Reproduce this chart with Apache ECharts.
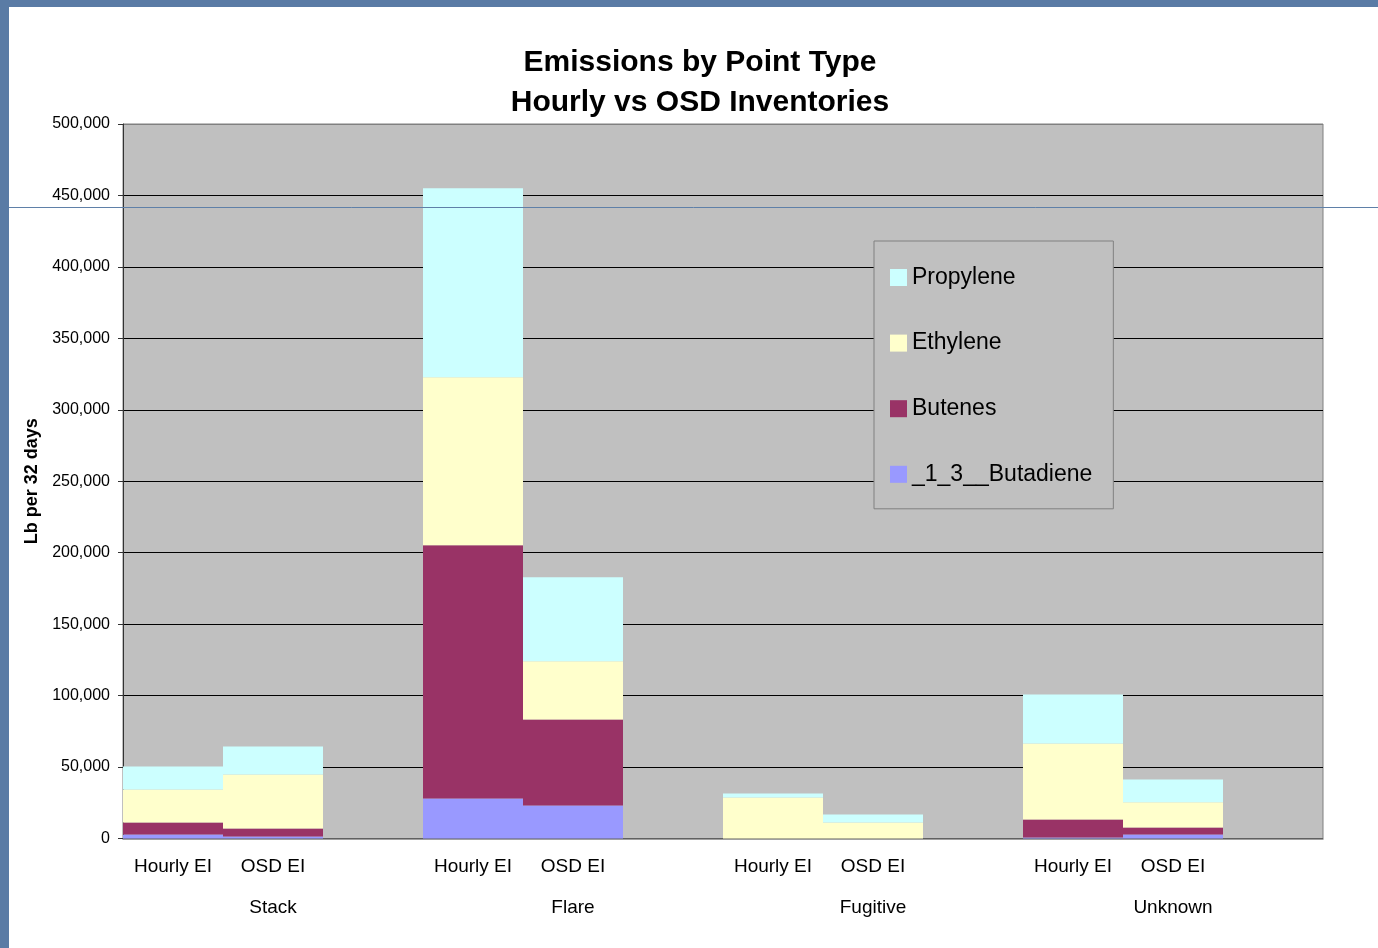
<!DOCTYPE html>
<html>
<head>
<meta charset="utf-8">
<script src="https://cdn.jsdelivr.net/npm/echarts@6/dist/echarts.min.js"></script>
<style>
    body { margin: 0; background: #5a7ba5; }
    .sheet { position: absolute; left: 9px; top: 7px; right: 0; bottom: 0; background: #fff; }
    #chart { position: absolute; left: 0; top: 0; width: 1378px; height: 948px; }
</style>
</head>
<body>
<div class="sheet"></div>
<div id="chart"></div>
<script>
// 12 slots: each group is Hourly, OSD and an empty spacer slot
const categories = ['Hourly EI', 'OSD EI', '', 'Hourly EI', 'OSD EI', '', 'Hourly EI', 'OSD EI', '', 'Hourly EI', 'OSD EI', '']
const groups = ['Stack', 'Flare', 'Fugitive', 'Unknown']

// stacked from the bottom up
const butadiene = [2800, 1400, null, 28000, 23100, null, 0, 0, null, 700, 2800, null]
const butenes = [8400, 5600, null, 177200, 60200, null, 0, 0, null, 12600, 4900, null]
const ethylene = [23100, 37800, null, 117600, 40700, null, 28700, 11200, null, 53200, 17700, null]
const propylene = [16100, 19600, null, 132200, 58800, null, 2800, 5600, null, 34300, 15900, null]

const yTicks = { min: 0, max: 500000, interval: 50000 }

const font = '"Liberation Sans", Arial, sans-serif'

const chart = echarts.init(document.getElementById('chart'))

function barSeries (name, data, color) {
    return {
        name: name,
        type: 'bar',
        stack: 'total',
        barWidth: '100%',
        data: data,
        itemStyle: { color: color },
        emphasis: { disabled: true }
    }
}

// gridlines black, the top one is the gray plot border
const gridColors = ['#000', '#000', '#000', '#000', '#000', '#000', '#000', '#000', '#000', '#000', '#808080']

const option = {
    backgroundColor: 'transparent',
    animation: false,
    textStyle: { fontFamily: font },
    title: {
        text: 'Emissions by Point Type\nHourly vs OSD Inventories',
        left: 695,
        textAlign: 'center',
        top: 38,
        textStyle: {
            fontFamily: font,
            fontSize: 30,
            fontWeight: 'bold',
            color: '#000',
            lineHeight: 40
        }
    },
    legend: {
        orient: 'vertical',
        left: 874,
        top: 241,
        data: ['Propylene', 'Ethylene', 'Butenes', '_1_3__Butadiene'],
        icon: 'rect',
        itemWidth: 17,
        itemHeight: 17,
        itemGap: 42.6,
        padding: [25, 21, 23, 16],
        backgroundColor: '#C0C0C0',
        borderColor: '#808080',
        borderWidth: 1,
        borderRadius: 0,
        textStyle: { fontFamily: font, fontSize: 23, color: '#000' }
    },
    grid: {
        left: 123,
        right: 55,
        top: 124,
        bottom: 109.5,
        show: true,
        backgroundColor: '#C0C0C0',
        borderColor: '#808080',
        borderWidth: 1
    },
    xAxis: [
        {
            type: 'category',
            data: categories,
            axisLine: { show: true, lineStyle: { color: '#808080', width: 1.5 } },
            axisTick: { show: false },
            axisLabel: { interval: 0, margin: 19, fontSize: 19, color: '#000', fontFamily: font }
        },
        {
            type: 'category',
            position: 'bottom',
            data: groups,
            axisLine: { show: false },
            axisTick: { show: false },
            axisLabel: { interval: 0, margin: 60, fontSize: 19, color: '#000', fontFamily: font }
        }
    ],
    yAxis: {
        type: 'value',
        min: yTicks.min,
        max: yTicks.max,
        interval: yTicks.interval,
        name: 'Lb per 32 days',
        nameLocation: 'middle',
        nameGap: 78,
        nameTextStyle: { fontFamily: font, fontSize: 18, fontWeight: 'bold', color: '#000' },
        axisLine: { show: true, lineStyle: { color: '#333' } },
        axisTick: { show: true, length: 5, inside: false, lineStyle: { color: '#333' } },
        axisLabel: {
            margin: 13,
            fontSize: 16,
            color: '#000',
            fontFamily: font,
            formatter: v => v.toLocaleString('en-US')
        },
        splitLine: { show: true, lineStyle: { color: gridColors, width: 1 } }
    },
    series: [
        barSeries('_1_3__Butadiene', butadiene, '#9999FF'),
        barSeries('Butenes', butenes, '#993366'),
        barSeries('Ethylene', ethylene, '#FFFFCC'),
        barSeries('Propylene', propylene, '#CCFFFF')
    ],
    graphic: [
        {
            type: 'line',
            z: 100,
            silent: true,
            shape: { x1: 9, y1: 207.5, x2: 1378, y2: 207.5 },
            style: { stroke: '#5f80a8', lineWidth: 1 }
        }
    ]
}

chart.setOption(option)
</script>
</body>
</html>
